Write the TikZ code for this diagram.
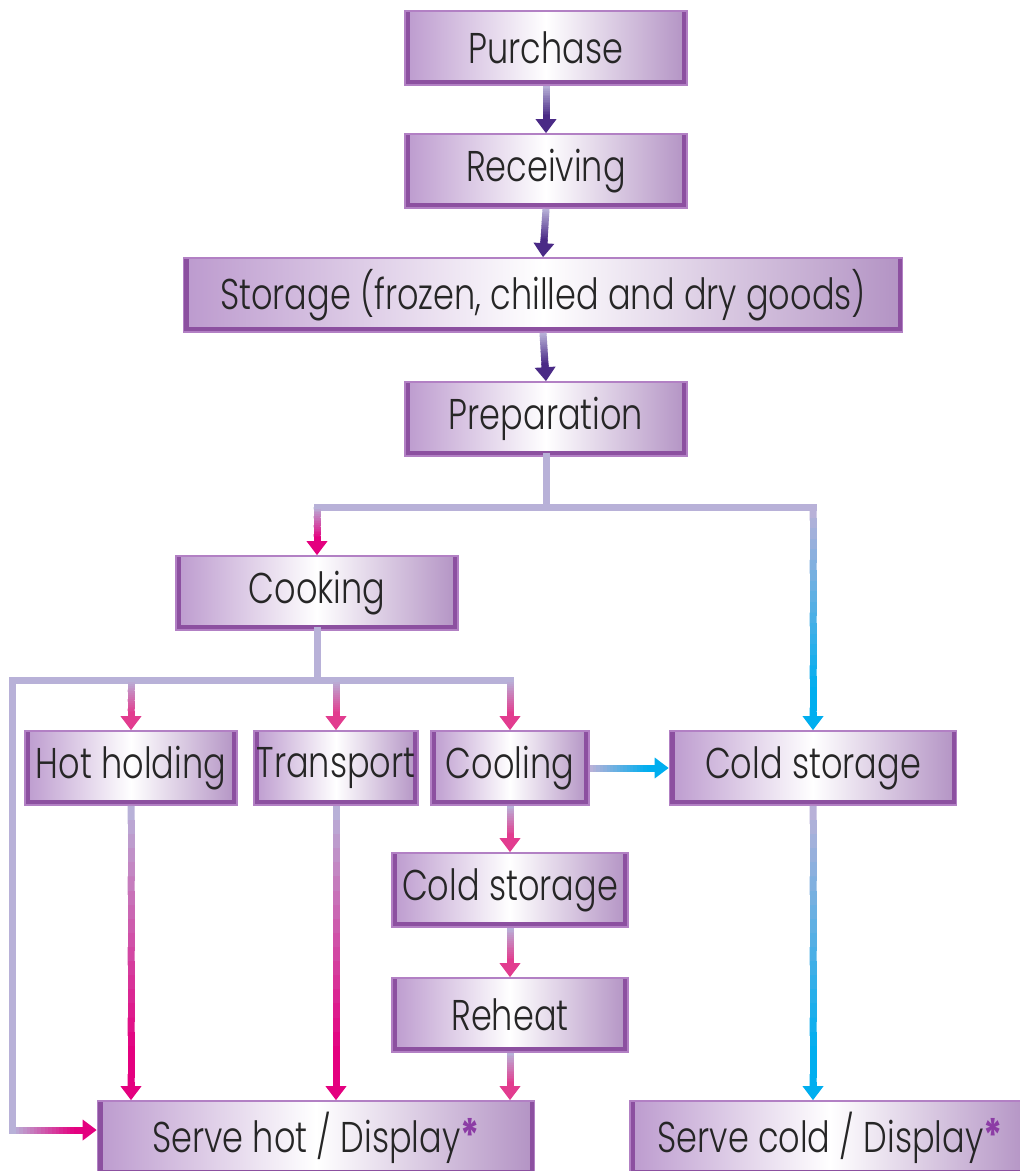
\documentclass[tikz,border=0pt]{standalone}
\usepackage{fontspec}
\setmainfont{Poppins}[UprightFont=* Light, BoldFont=* Bold, FakeStretch=0.78]
\usetikzlibrary{calc,arrows.meta}
\definecolor{boxlav}{RGB}{188,154,206}
\definecolor{boxrim}{RGB}{178,128,196}
\definecolor{boxdark}{RGB}{140,80,160}
\definecolor{lav}{RGB}{184,177,216}
\definecolor{hotpink}{RGB}{228,0,127}
\definecolor{softpink}{RGB}{226,60,143}
\definecolor{coldblue}{RGB}{0,174,239}
\definecolor{deeppurple}{RGB}{74,42,134}
\definecolor{starpurple}{RGB}{140,60,165}

% gradient connector: from, to, start colour, end colour
\newcommand{\flow}[4]{%
  \coordinate (fe) at ($(#2)!6pt!(#1)$);
  \foreach \k in {0,...,19}{
    \pgfmathsetmacro{\mix}{max(0,100-6*\k)}
    \pgfmathsetmacro{\ta}{\k/20}
    \pgfmathsetmacro{\tb}{min(1,(\k+1.3)/20)}
    \draw[line width=3.5pt, draw=#3!\mix!#4] ($(#1)!\ta!(fe)$) -- ($(#1)!\tb!(fe)$);
  }
  \draw[line width=3.5pt, draw=#4, -{Triangle[length=7pt,width=10pt]}] ($(#2)!9pt!(#1)$) -- (#2);
}
\newcommand{\asterisk}{{\fontsize{23}{23}\selectfont\bfseries\color{starpurple}*}}

\begin{document}
\begin{tikzpicture}[x=0.5pt, y=-0.5pt,
    box/.style={draw=boxrim, line width=0.8pt, left color=boxlav, right color=boxlav!95!black, middle color=white,
      minimum height=37pt, inner sep=0pt, text=black!85, font=\fontsize{21.5}{25}\selectfont,
      path picture={\draw[boxdark, line width=5pt] (path picture bounding box.north west)
        -- (path picture bounding box.south west) -- (path picture bounding box.south east)
        -- (path picture bounding box.north east);}},
    trunk/.style={draw=lav, line width=3.5pt, line cap=rect, line join=miter}]
  \useasboundingbox (0,0) rectangle (1019,1171);

  % boxes
  \node[box, minimum width=141pt] (purchase) at (546,48) {Purchase};
  \node[box, minimum width=141pt] (receiving) at (546,171) {Receiving};
  \node[box, minimum width=359.5pt] (storage) at (543,295) {Storage (frozen, chilled and dry goods)};
  \node[box, minimum width=141pt] (prep) at (546,419) {Preparation};
  \node[box, minimum width=141pt] (cooking) at (317,593) {Cooking};
  \node[box, minimum width=106pt] (hot) at (131,768) {Hot holding};
  \node[box, minimum width=82pt] (transport) at (336,768) {Transport};
  \node[box, minimum width=79pt] (cooling) at (510,768) {Cooling};
  \node[box, minimum width=143.5pt] (coldR) at (813,768) {Cold storage};
  \node[box, minimum width=118pt] (coldM) at (510,890) {Cold storage};
  \node[box, minimum width=118pt] (reheat) at (510,1015) {Reheat};
  \node[box, minimum width=218.5pt] (servehot) at (316,1138) {Serve hot / Display\asterisk};
  \node[box, minimum width=200pt] (servecold) at (830,1138) {Serve cold / Display\asterisk};

  % junctions
  \coordinate (split1) at (546,507);
  \coordinate (cookin) at (cooking.north |- split1);
  \coordinate (coldin) at (coldR.north |- split1);
  \coordinate (split2) at (317,680);
  \coordinate (lefttop) at (12,680);
  \coordinate (leftbot) at (12,1130);
  \coordinate (hotin) at (hot.north |- split2);
  \coordinate (transin) at (transport.north |- split2);
  \coordinate (coolin) at (cooling.north |- split2);

  % top chain
  \flow{purchase.south}{receiving.north}{lav}{deeppurple}
  \flow{receiving.south}{storage.north}{lav}{deeppurple}
  \flow{storage.south}{prep.north}{lav}{deeppurple}

  % after preparation
  \draw[trunk] (prep.south) -- (split1);
  \draw[trunk] (cookin) -- (coldin);
  \flow{cookin}{cooking.north}{lav}{hotpink}
  \flow{coldin}{coldR.north}{lav}{coldblue}

  % after cooking
  \draw[trunk] (cooking.south) -- (split2);
  \draw[trunk] (coolin) -- (lefttop) -- (leftbot);
  \flow{hotin}{hot.north}{lav}{softpink}
  \flow{transin}{transport.north}{lav}{softpink}
  \flow{coolin}{cooling.north}{lav}{softpink}
  \flow{leftbot}{servehot.west |- leftbot}{lav}{hotpink}

  % to serving
  \flow{hot.south}{hot.south |- servehot.north}{lav}{hotpink}
  \flow{transport.south}{transport.south |- servehot.north}{lav}{hotpink}
  \flow{cooling.south}{coldM.north}{lav}{softpink}
  \flow{coldM.south}{reheat.north}{lav}{softpink}
  \flow{reheat.south}{reheat.south |- servehot.north}{lav}{softpink}
  \flow{cooling.east}{coldR.west}{lav}{coldblue}
  \flow{coldR.south}{coldR.south |- servecold.north}{lav}{coldblue}
\end{tikzpicture}
\end{document}
